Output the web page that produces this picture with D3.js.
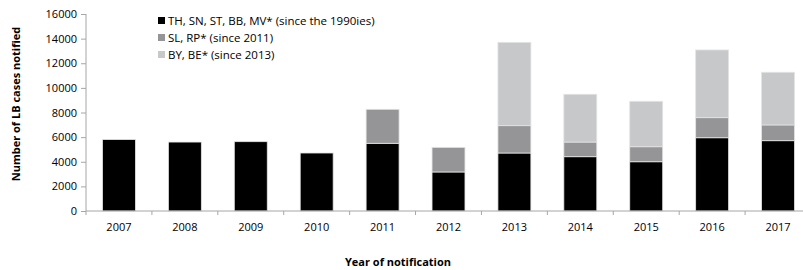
<!DOCTYPE html>
<html>
  <head>
    <script src="https://cdnjs.cloudflare.com/ajax/libs/d3/7.8.5/d3.min.js"></script>
    <style>
      body { margin: 0; background: #fff; }
      svg text { font-family: "Open Sans", sans-serif; fill: #000; }
      .axis path, .axis line { stroke: #a6a6a6; stroke-width: 1; }
      .axis text { font-size: 11px; }
      .title { font-size: 11px; font-weight: bold; }
      .legend text { font-size: 11.5px; }
    </style>
  </head>
  <body>
    <svg width="803" height="270"></svg>
    <script>
      // years of notification
      var years = ["2007", "2008", "2009", "2010", "2011", "2012", "2013", "2014", "2015", "2016", "2017"];

      // cases per group of states (stacked)
      var oldStates = [5800, 5600, 5630, 4710, 5500, 3170, 4710, 4410, 4000, 5950, 5710];
      var since2011 = [0, 0, 0, 0, 2760, 2000, 2220, 1190, 1220, 1630, 1280];
      var since2013 = [0, 0, 0, 0, 0, 0, 6770, 3880, 3690, 5500, 4280];

      var seriesNames = [
        "TH, SN, ST, BB, MV* (since the 1990ies)",
        "SL, RP* (since 2011)",
        "BY, BE* (since 2013)"
      ];
      var yTicks = [0, 2000, 4000, 6000, 8000, 10000, 12000, 14000, 16000];

      var colors = ["#000000", "#959597", "#c6c8ca"];

      var svg = d3.select("svg");

      var x = d3.scaleBand().domain(years).range([86, 811]).paddingInner(0.5).paddingOuter(0.25);
      var y = d3.scaleLinear().domain([0, 16000]).range([211, 14]);

      var rows = years.map((yr, i) => ({ year: yr, a: oldStates[i], b: since2011[i], c: since2013[i] }));
      var stack = d3.stack().keys(["a", "b", "c"])(rows);

      // y axis
      svg.append("g")
        .attr("class", "axis")
        .attr("transform", "translate(86,0)")
        .call(d3.axisLeft(y).tickValues(yTicks).tickSize(5).tickPadding(4).tickFormat(d3.format("d")))
        .call(g => g.select(".domain").attr("d", "M0,14V211"));

      // bars
      svg.append("g").selectAll("g")
        .data(stack)
        .enter()
        .append("g")
        .attr("fill", (d, i) => colors[i])
        .selectAll("rect")
        .data(d => d.filter(p => p[1] - p[0] > 0))
        .enter()
        .append("rect")
        .attr("x", d => x(d.data.year))
        .attr("width", x.bandwidth())
        .attr("y", d => y(d[1]))
        .attr("height", d => y(d[0]) - y(d[1]))
        .attr("stroke", "#e4e4e4")
        .attr("stroke-width", 0.8);

      // x axis with ticks between the categories
      var xAxis = svg.append("g")
        .attr("class", "axis")
        .attr("transform", "translate(0,211)");
      xAxis.append("line").attr("x1", 86).attr("x2", 811);
      xAxis.selectAll("line.tk")
        .data(d3.range(years.length + 1))
        .enter()
        .append("line")
        .attr("class", "tk")
        .attr("x1", i => 86 + i * x.step())
        .attr("x2", i => 86 + i * x.step())
        .attr("y1", 0).attr("y2", 4);
      xAxis.selectAll("text")
        .data(years)
        .enter()
        .append("text")
        .attr("x", d => x(d) + x.bandwidth() / 2)
        .attr("y", 20)
        .attr("text-anchor", "middle")
        .text(d => d);

      // axis titles
      svg.append("text")
        .attr("class", "title")
        .attr("transform", "translate(20,104) rotate(-90)")
        .attr("text-anchor", "middle")
        .text("Number of LB cases notified");

      svg.append("text")
        .attr("class", "title")
        .attr("x", 398)
        .attr("y", 266)
        .attr("text-anchor", "middle")
        .text("Year of notification");

      // legend
      var legend = svg.append("g").attr("class", "legend");
      seriesNames.forEach((name, i) => {
        legend.append("rect")
          .attr("x", 158).attr("y", 17 + i * 17)
          .attr("width", 7).attr("height", 7)
          .attr("fill", colors[i]);
        legend.append("text")
          .attr("x", 168).attr("y", 24.5 + i * 17)
          .text(name);
      });
    </script>
  </body>
</html>
